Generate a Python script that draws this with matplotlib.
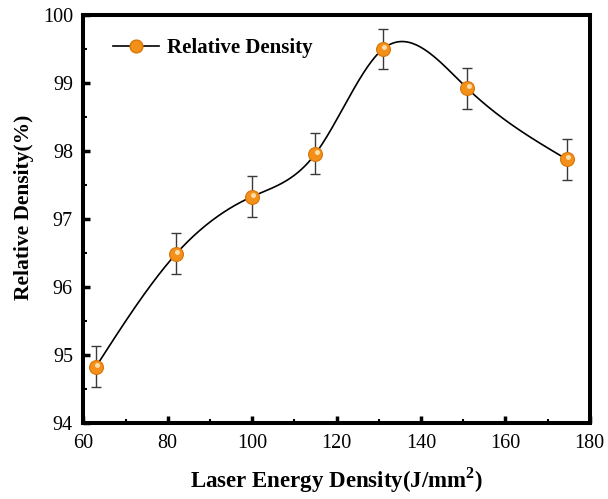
import numpy as np
import matplotlib
matplotlib.use('Agg')
import matplotlib.pyplot as plt
from matplotlib.ticker import MultipleLocator

# Data
energy = [63, 82, 100, 115, 131, 151, 174.5]
density = [94.83, 96.49, 97.33, 97.96, 99.50, 98.92, 97.88]
errors = [0.30, 0.30, 0.30, 0.30, 0.30, 0.30, 0.30]

plt.rcParams['font.family'] = ['Liberation Serif', 'DejaVu Serif']
plt.rcParams['mathtext.fontset'] = 'custom'
plt.rcParams['mathtext.rm'] = 'Liberation Serif'
plt.rcParams['mathtext.bf'] = 'Liberation Serif:bold'


def natural_spline(x, y, n=400):
    # natural cubic spline through the points, for the smooth connecting line
    x = np.asarray(x, float)
    y = np.asarray(y, float)
    k = len(x)
    h = np.diff(x)
    A = np.zeros((k, k))
    b = np.zeros(k)
    A[0, 0] = 1
    A[-1, -1] = 1
    for i in range(1, k - 1):
        A[i, i - 1] = h[i - 1]
        A[i, i] = 2 * (h[i - 1] + h[i])
        A[i, i + 1] = h[i]
        b[i] = 3 * ((y[i + 1] - y[i]) / h[i] - (y[i] - y[i - 1]) / h[i - 1])
    c = np.linalg.solve(A, b)
    xs = np.linspace(x[0], x[-1], n)
    ys = np.empty_like(xs)
    for j, xv in enumerate(xs):
        i = min(np.searchsorted(x, xv, side='right') - 1, k - 2)
        dx = xv - x[i]
        bi = (y[i + 1] - y[i]) / h[i] - h[i] * (2 * c[i] + c[i + 1]) / 3
        di = (c[i + 1] - c[i]) / (3 * h[i])
        ys[j] = y[i] + bi * dx + c[i] * dx ** 2 + di * dx ** 3
    return xs, ys


fig = plt.figure(figsize=(6.08, 4.99), dpi=100, facecolor='white')
ax = fig.add_axes([0.137, 0.152, 0.833, 0.818])

xs, ys = natural_spline(energy, density)
ax.plot(xs, ys, color='black', linewidth=1.2, zorder=2)

ax.errorbar(energy, density, yerr=errors, fmt='none', ecolor='#3a3a3a',
            elinewidth=1.0, capsize=3.3, capthick=1.0, zorder=3)

# orange sphere markers with a highlight
ax.plot(energy, density, 'o', color='#F39019', markeredgecolor='#D9750A',
        markersize=10, markeredgewidth=0.8, zorder=4)
ax.plot(np.array(energy) + 0.3, np.array(density) + 0.03, 'o', color='#FFDDA8',
        markeredgewidth=0, markersize=3.6, zorder=5)

# legend
leg_line, = ax.plot([], [], color='black', linewidth=1.2, marker='o',
                    markerfacecolor='#F39019', markeredgecolor='#D9750A',
                    markersize=9.2, label='Relative Density')
ax.legend(handles=[leg_line], loc='upper left', frameon=False,
          bbox_to_anchor=(0.022, 0.99), handlelength=2.2,
          handletextpad=0.4, prop={'weight': 'bold', 'size': 15})

ax.set_xlim(60, 180)
ax.set_ylim(94, 100)
ax.xaxis.set_major_locator(MultipleLocator(20))
ax.xaxis.set_minor_locator(MultipleLocator(10))
ax.yaxis.set_major_locator(MultipleLocator(1))
ax.yaxis.set_minor_locator(MultipleLocator(0.5))
ax.tick_params(which='major', direction='in', length=5, width=2.5,
               labelsize=14.5)
ax.tick_params(axis='x', which='major', pad=8)
ax.tick_params(axis='y', which='major', pad=7.5)
ax.tick_params(which='minor', direction='in', length=3, width=1.5)
for s in ax.spines.values():
    s.set_linewidth(2.9)

ax.set_xlabel('Laser Energy Density(J/mm$^\\mathbf{2}$)', fontsize=16.5,
              fontweight='bold')
ax.set_ylabel('Relative Density(%)', fontsize=15.5, fontweight='bold')
ax.xaxis.set_label_coords(0.5, -0.103)
ax.yaxis.set_label_coords(-0.097, 0.53)

fig.savefig('out.png', dpi=100, facecolor='white')
